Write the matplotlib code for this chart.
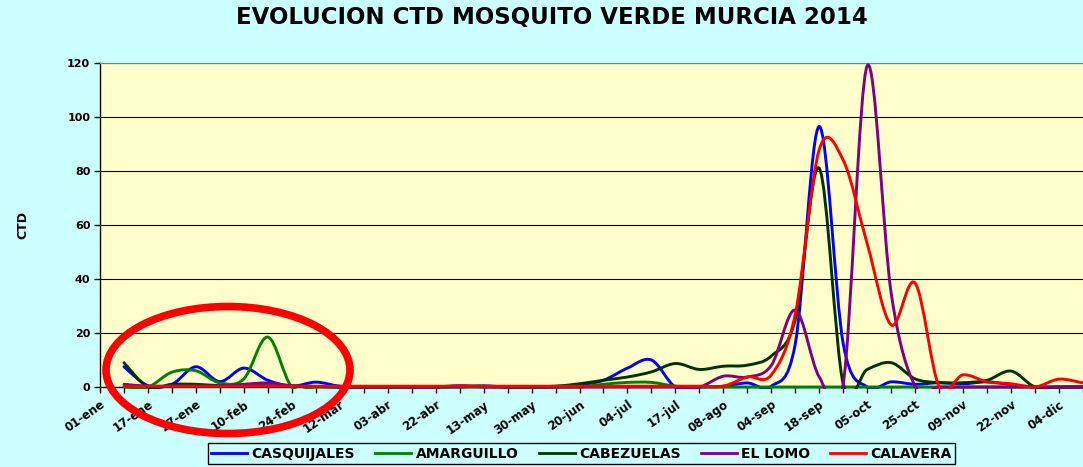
import numpy as np
import matplotlib
matplotlib.use("Agg")
import matplotlib.pyplot as plt
from matplotlib.path import Path
from matplotlib.patches import PathPatch, Ellipse
from matplotlib.lines import Line2D
from matplotlib.transforms import Bbox, TransformedBbox

nan = np.nan

# category labels (one label every second sampling date)
labels = ["01-ene", "17-ene", "27-ene", "10-feb", "24-feb", "12-mar", "03-abr",
          "22-abr", "13-may", "30-may", "20-jun", "04-jul", "17-jul", "08-ago",
          "04-sep", "18-sep", "05-oct", "25-oct", "09-nov", "22-nov", "04-dic"]

casquijales = [nan, 7.5, 0.5, 1, 7.5, 2, 7, 2.5, 0.3, 1.8, 0.3, 0, 0, 0, 0, 0, 0.4, 0, 0, 0,
               0.8, 2.5, 7, 10, 0, 0, 0.3, 1.5, 0.3, 16, 96.5, 16, 0, 1.9, 1, 1.6, 1.2, 1.9,
               0.9, 0, 0, 0]
amarguillo = [nan, 0, 0, 5.5, 6, 1.5, 3, 18.5, 0, 0, 0, 0, 0, 0, 0, 0, 0, 0, 0, 0,
              0, 1, 1.7, 1.7, 0.3, 0, 0, 0, 0, 0, 0, 0, 0, 0, 0, 0, 0, 0,
              0, 0, 0, 0]
cabezuelas = [nan, 9, 0, 1, 1, 0.5, 0.5, 0.5, 0.3, 0.2, 0, 0, 0, 0, 0, 0.3, 0.3, 0, 0, 0.3,
              1.2, 2.5, 3.7, 5.6, 8.7, 6.5, 7.7, 8.1, 11.5, 25, 81, 1, 6.5, 9, 3, 1.6, 1.6, 2.5,
              5.9, 0, 0, 0]
el_lomo = [nan, 1, 0.3, 0.3, 0.3, 0.3, 1, 1.5, 0.5, 0.2, 0, 0, 0, 0, 0, 0.5, 0, 0, 0, 0,
           0, 0, 0, 0, 0, 0, 4, 3.7, 8, 28.5, 3.7, 1.2, 119, 34.7, 0.3, 0, 0, 0,
           0, 0, 0, 0]
calavera = [nan, 0.3, 0.3, 0.3, 0.3, 0.3, 0.3, 0.3, 0.3, 0.3, 0.3, 0.3, 0.3, 0.3, 0.3, 0.3, 0.3, 0.3, 0.3, 0.3,
            0.3, 0.3, 0.3, 0.3, 0.3, 0.3, 0.3, 3.7, 4.5, 27, 88, 84, 53, 23, 38.5, 0.2, 4.5, 1.9,
            1.2, 0, 2.9, 1.5]

series = [("CASQUIJALES", casquijales, "#0000FF"),
          ("AMARGUILLO", amarguillo, "#008000"),
          ("CABEZUELAS", cabezuelas, "#003300"),
          ("EL LOMO", el_lomo, "#800080"),
          ("CALAVERA", calavera, "#FF0000")]


def smooth_path(xs, ys):
    # Excel-like smoothed line: cubic bezier through the points
    pts = [(x, y) for x, y in zip(xs, ys) if not np.isnan(y)]
    n = len(pts)
    verts = [pts[0]]
    codes = [Path.MOVETO]
    for i in range(n - 1):
        p0 = pts[max(i - 1, 0)]
        p1 = pts[i]
        p2 = pts[i + 1]
        p3 = pts[min(i + 2, n - 1)]
        c1 = (p1[0] + (p2[0] - p0[0]) / 6, p1[1] + (p2[1] - p0[1]) / 6)
        c2 = (p2[0] - (p3[0] - p1[0]) / 6, p2[1] - (p3[1] - p1[1]) / 6)
        verts += [c1, c2, p2]
        codes += [Path.CURVE4] * 3
    return Path(verts, codes)


bg = "#CCFFFF"
fig = plt.figure(figsize=(10.83, 4.67), dpi=100, facecolor=bg)
ax = fig.add_axes([100 / 1083, 1 - 387 / 467, 1 - 100 / 1083, (387 - 63) / 467])
ax.set_facecolor("#FFFFCC")

bold = dict(family="DejaVu Sans", weight="bold")

n = len(casquijales)
x = np.arange(n)
clip = TransformedBbox(Bbox([[0, -0.006], [1, 1]]), ax.transAxes)
for name, vals, col in series:
    p = PathPatch(smooth_path(x, vals), facecolor="none", edgecolor=col, lw=2.1,
                  zorder=3, capstyle="round", joinstyle="round")
    ax.add_patch(p)
    p.set_clip_box(clip)

ax.set_xlim(0, (1083 - 100) / 24.25)
ax.set_ylim(0, 120)
ax.set_yticks(range(0, 121, 20))
ax.set_xticks(x)
ax.set_xticklabels([labels[i // 2] if i % 2 == 0 and i // 2 < len(labels) else "" for i in x],
                   rotation=35, ha="right", va="top", rotation_mode="anchor", fontsize=8.5, **bold)
for t in ax.get_yticklabels():
    t.set_fontsize(8)
    t.set_fontweight("bold")
ax.tick_params(axis="both", direction="out", length=4, width=1, color="black")
ax.tick_params(axis="y", pad=3)
ax.tick_params(axis="x", pad=4)

ax.yaxis.grid(True, color="black", lw=0.8)
ax.set_axisbelow(True)
ax.spines["right"].set_visible(False)
ax.spines["top"].set_color("#808080")
ax.spines["left"].set_linewidth(1)
ax.spines["bottom"].set_linewidth(1)

fig.text(0.51, 0.962, "EVOLUCION CTD MOSQUITO VERDE MURCIA 2014", ha="center", va="center",
         fontsize=16.5, **bold)
fig.text(23 / 1083, 1 - 225 / 467, "CTD", rotation=90, ha="center", va="center", fontsize=9, **bold)

handles = [Line2D([], [], color=c, lw=2) for _, _, c in series]
leg = fig.legend(handles, [s[0] for s in series], loc="center", bbox_to_anchor=(0.537, 0.028),
                 ncol=5, frameon=True, fancybox=False, edgecolor="black", facecolor=bg,
                 framealpha=1, prop=dict(family="DejaVu Sans", weight="bold", size=10),
                 handlelength=2.6, columnspacing=1.45, handletextpad=0.3, borderpad=0.25)
leg.get_frame().set_linewidth(1)

# red ellipse highlighting the winter values
ell = Ellipse((228 / 1083, 1 - 370 / 467), 244 / 1083, 127 / 467, transform=fig.transFigure,
              facecolor="none", edgecolor="#FF0000", lw=5.5, zorder=10)
fig.add_artist(ell)

fig.savefig("out.png", dpi=100, facecolor=bg)
